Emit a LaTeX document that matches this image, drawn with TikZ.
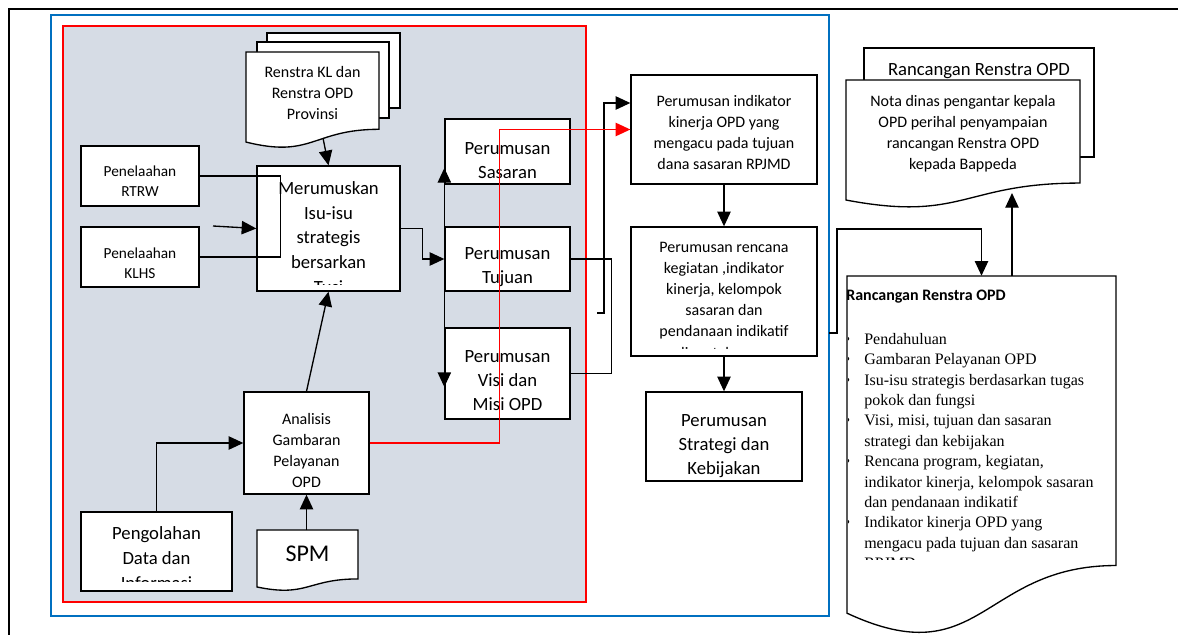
\documentclass[tikz,border=0pt]{standalone}
\usepackage{fontspec}
\setmainfont{Carlito}
\newfontfamily\tnr{Liberation Serif}
\usetikzlibrary{arrows.meta,fit}

\definecolor{panel}{HTML}{D6DCE5}
\definecolor{frameblue}{HTML}{0070C0}

\newcommand{\setfs}[2]{\fontsize{#1}{#2}\selectfont}
\newcommand{\itm}{\llap{\textbullet\hspace{10.5pt}}}
% page with wavy bottom: x, y, width, height (px)
\newcommand{\docshape}[4]{%
  \draw[line width=1pt,fill=white] (#1,#2) -- (#1+#3,#2) -- (#1+#3,#2+0.802*#4)
    .. controls (#1+0.5*#3,#2+0.802*#4) and (#1+0.5*#3,#2+1.107*#4) .. (#1,#2+0.934*#4) -- cycle;}

\tikzset{
  box/.style={draw, line width=1pt, fill=white, inner sep=0pt},
  txt/.style={align=center, inner sep=0pt},
  conn/.style={line width=1pt},
  page/.style={draw, line width=1pt, fill=white},
}

\begin{document}
\begin{tikzpicture}[x=0.75pt, y=-0.75pt, >={Triangle[length=11pt,width=10pt]}]
\useasboundingbox (0,0) rectangle (1178,635);
\draw[line width=1.5pt] (1185,9) -- (9,9) -- (9,645);

% frames
\node[draw=frameblue, line width=1.25pt, inner sep=0pt, fit={(51,15) (829,616)}] (grpblue) {};
\node[draw=red, fill=panel, line width=1.5pt, inner sep=0pt, fit={(63,26) (586,602)}] (grpred) {};

% renstra documents
\draw[page] (267,33) rectangle (400,108);
\draw[page] (257,42) rectangle (389,118);
\docshape{246}{52}{133}{96.4}
\node[txt, font=\setfs{12}{15.75}] (renstra) at (312.5,93.5) {Renstra KL dan\\Renstra OPD\\Provinsi};
\coordinate (renstrabot) at (323,138);

% left column
\node[box, fit={(81,146) (199,206)}] (rtrw) {};
\node[txt, font=\setfs{11.5}{15}] (rtrwtxt) at (140,181.5) {Penelaahan\\RTRW};
\node[box, fit={(81,227) (199,287)}] (klhs) {};
\node[txt, font=\setfs{11.5}{15}] (klhstxt) at (140,263) {Penelaahan\\KLHS};
\node[box, fit={(257,166) (400,291)}] (merumus) {};
\begin{scope}
  \clip (258,167) rectangle (399,284);
  \node[txt, font=\setfs{14}{18.5}] (merumustxt) at (328.5,237.5) {Merumuskan\\Isu-isu\\strategis\\bersarkan\\Tusi};
\end{scope}
\node[box, fit={(445,119) (570,184)}] (sasaran) {};
\node[txt, font=\setfs{14}{18}] (sasarantxt) at (507.5,160.5) {Perumusan\\Sasaran};
\node[box, fit={(445,227) (570,291)}] (tujuan) {};
\node[txt, font=\setfs{14}{18}] (tujuantxt) at (507.5,267.5) {Perumusan\\Tujuan};
\node[box, fit={(445,328) (570,419)}] (visi) {};
\node[txt, font=\setfs{14}{18}] (visitxt) at (507.5,380.5) {Perumusan\\Visi dan\\Misi OPD};
\node[box, fit={(244,392) (369,494)}] (analisis) {};
\node[txt, font=\setfs{12}{15.75}] (analisistxt) at (306.5,450) {Analisis\\Gambaran\\Pelayanan\\OPD};
\node[box, fit={(81,512) (232,591)}] (pengolah) {};
\begin{scope}
  \clip (82,513) rectangle (231,581);
  \node[txt, font=\setfs{14}{18.75}] (pengolahtxt) at (156.5,558) {Pengolahan\\Data dan\\Informasi};
\end{scope}
\docshape{257}{530}{101}{61}
\node[txt, font=\setfs{18}{22}] (spm) at (307.5,554) {SPM};
\coordinate (spmtop) at (306.5,530);

% middle column
\node[box, fit={(631,75) (817,184)}] (indikator) {};
\node[txt, font=\setfs{12}{15.75}] (indikatortxt) at (724,133) {Perumusan indikator\\kinerja OPD yang\\mengacu pada tujuan\\dana sasaran RPJMD};
\node[box, fit={(631,227) (817,356)}] (rencana) {};
\begin{scope}
  \clip (632,228) rectangle (816,348);
  \node[txt, font=\setfs{12}{15.9}] (rencanatxt) at (724,300) {Perumusan rencana\\kegiatan ,indikator\\kinerja, kelompok\\sasaran dan\\pendanaan indikatif\\lima tahunan};
\end{scope}
\node[box, fit={(646,392) (802,481)}] (strategi) {};
\node[txt, font=\setfs{14}{18}] (strategitxt) at (724,446.5) {Perumusan\\Strategi dan\\Kebijakan};

% right side
\draw[page] (864,48) rectangle (1094,157);
\node[txt, font=\setfs{14}{17}] (rancang) at (979,71) {Rancangan Renstra OPD};
\docshape{846}{80}{234}{128.5}
\node[txt, font=\setfs{12}{15.75}] (nota) at (963,133.5) {Nota dinas pengantar kepala\\OPD perihal penyampaian\\rancangan Renstra OPD\\kepada Bappeda};
\coordinate (notabot) at (1012,193);
\docshape{847}{276}{269}{361}
\node[inner sep=0pt, fit={(847,276) (1116,560)}] (bigdoc) {};
\node[anchor=west, inner sep=0pt, font=\bfseries\setfs{12}{15}] (judul) at (846,297) {Rancangan Renstra OPD};
\begin{scope}
  \clip (848,310) rectangle (1115,559);
  \node[anchor=west, inner sep=0pt, align=left, font=\tnr\setfs{12}{15.3}] (isi) at (864,451) {\itm Pendahuluan\\
    \itm Gambaran Pelayanan OPD\\
    \itm Isu-isu strategis berdasarkan tugas\\
    pokok dan fungsi\\
    \itm Visi, misi, tujuan dan sasaran\\
    strategi dan kebijakan\\
    \itm Rencana program, kegiatan,\\
    indikator kinerja, kelompok sasaran\\
    dan pendanaan indikatif\\
    \itm Indikator kinerja OPD yang\\
    mengacu pada tujuan dan sasaran\\
    RPJMD};
\end{scope}

% connectors
\coordinate (inleft) at (213,226);
\coordinate (kait) at (597,313);
\coordinate (keluar) at (829,333);
\draw[conn] (rtrw.east) -- ++(81,0) |- (klhs.east);
\draw[conn,->] (inleft) -- (merumus.west);
\draw[conn,->] (renstrabot) -- (merumus.north);
\draw[conn,->] (merumus.east) -- ++(22,0) |- (tujuan.west);
\draw[conn,<->] (sasaran.south west |- 0,168) -- (visi.west |- 0,387);
\draw[conn,->] (analisis.north) -- (merumus.south);
\draw[conn,->] (pengolah.north) |- (analisis.west);
\draw[conn,->] (spmtop) -- (analisis.south);
\draw[conn] (tujuan.east) -- ++(41,0) |- (visi.east);
\draw[conn,->] (kait) -- ++(7,0) |- (indikator.west |- 0,103);
\draw[conn,red,->] (analisis.east) -- ++(130,0) |- (indikator.west);
\draw[conn,->] (indikator.south) -- (rencana.north);
\draw[conn,->] (rencana.south) -- (strategi.north);
\draw[conn,->] (keluar) -- ++(8,0) -- ++(0,-104) -| (bigdoc.north);
\draw[conn,->] (bigdoc.north -| notabot) -- (notabot);
\end{tikzpicture}
\end{document}
